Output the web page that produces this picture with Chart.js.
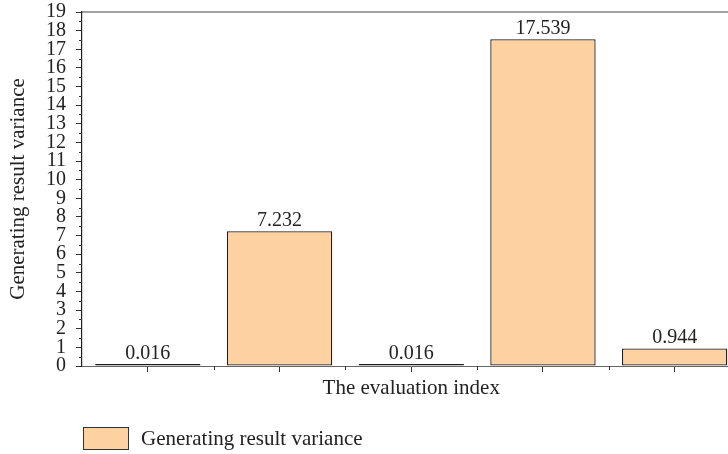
<!DOCTYPE html>
<html>
<head>
<meta charset="utf-8">
<script src="https://cdn.jsdelivr.net/npm/chart.js@4"></script>
<style>
  html, body { margin: 0; padding: 0; background: #fff; }
  #wrap { position: relative; width: 728px; height: 454px; overflow: hidden; }
  #c { position: absolute; left: 0; top: 0; }
  #legend { position: absolute; left: 83px; top: 426px; display: flex; align-items: center;
            font: 21px "Liberation Serif", serif; color: #222; }
  #legend .box { width: 44px; height: 21px; background: #FDD1A0; border: 1px solid #333; margin-right: 12px; }
</style>
</head>
<body>
<div id="wrap">
  <canvas id="c" width="742" height="454"></canvas>
  <div id="legend"><span class="box"></span><span>Generating result variance</span></div>
</div>
<script>
// Evaluation indexes (unlabelled on the axis) and their variances
const categories = ['1', '2', '3', '4', '5'];
const seriesName = 'Generating result variance';
const varianceValues = [0.016, 7.232, 0.016, 17.539, 0.944];
const yRange = { min: 0, max: 19, step: 1 };

const FONT = '"Liberation Serif", "Times New Roman", serif';
const INK = '#222';

// Half-step minor ticks on both axes, plus the frame line along the top
const frameAndMinorTicks = {
  id: 'frameAndMinorTicks',
  afterDraw(chart) {
    const { ctx, chartArea, scales } = chart;
    const x = scales.x, y = scales.y;
    ctx.save();
    ctx.strokeStyle = '#333';
    ctx.lineWidth = 1;
    for (let v = yRange.min + yRange.step / 2; v < yRange.max; v += yRange.step) {
      const py = Math.round(y.getPixelForValue(v)) + 0.5;
      ctx.beginPath();
      ctx.moveTo(chartArea.left - 3, py);
      ctx.lineTo(chartArea.left, py);
      ctx.stroke();
    }
    const n = categories.length;
    const half = (x.getPixelForTick(1) - x.getPixelForTick(0)) / 2;
    for (let i = 0; i < n; i++) {
      const px = Math.round(x.getPixelForTick(i) + half) + 0.5;
      ctx.beginPath();
      ctx.moveTo(px, chartArea.bottom);
      ctx.lineTo(px, chartArea.bottom + 4);
      ctx.stroke();
    }
    ctx.strokeStyle = '#444';
    ctx.lineWidth = 1.2;
    ctx.beginPath();
    ctx.moveTo(chartArea.left, chartArea.top);
    ctx.lineTo(chartArea.right + 2, chartArea.top);
    ctx.stroke();
    ctx.restore();
  }
};

// Value printed above each bar
const barValueLabels = {
  id: 'barValueLabels',
  afterDatasetsDraw(chart) {
    const { ctx } = chart;
    const meta = chart.getDatasetMeta(0);
    ctx.save();
    ctx.font = '20px ' + FONT;
    ctx.fillStyle = INK;
    ctx.textAlign = 'center';
    ctx.textBaseline = 'alphabetic';
    meta.data.forEach((bar, i) => {
      ctx.fillText(varianceValues[i].toFixed(3), bar.x, bar.y - 5);
    });
    ctx.restore();
  }
};

new Chart(document.getElementById('c'), {
  type: 'bar',
  data: {
    labels: categories,
    datasets: [{
      label: seriesName,
      data: varianceValues,
      backgroundColor: '#FDD1A0',
      borderColor: '#1e1e1e',
      borderWidth: 1.3,
      borderSkipped: false,
      minBarLength: 2,
      categoryPercentage: 0.8,
      barPercentage: 1.0
    }]
  },
  options: {
    responsive: false,
    animation: false,
    devicePixelRatio: 1,
    layout: { padding: { top: 12, right: 1.5, bottom: 53, left: 0 } },
    plugins: { legend: { display: false }, tooltip: { enabled: false } },
    scales: {
      x: {
        type: 'category',
        grid: { display: true, drawOnChartArea: false, offset: false, tickLength: 6, color: '#333', lineWidth: 1 },
        border: { display: true, color: '#666', width: 1 },
        ticks: { display: false },
        title: { display: true, text: 'The evaluation index', color: INK,
                 font: { family: FONT, size: 21 }, padding: { top: 0, bottom: 0 } },
        afterFit(scale) { scale.height = 35; scale.paddingLeft = 0; scale.paddingRight = 0; }
      },
      y: {
        min: yRange.min,
        max: yRange.max,
        grid: { display: true, drawOnChartArea: false, tickLength: 6, color: '#333', lineWidth: 1 },
        border: { display: true, color: '#222', width: 1.2 },
        ticks: { stepSize: yRange.step, autoSkip: false, padding: 10, color: INK,
                 font: { family: FONT, size: 20 } },
        title: { display: true, text: seriesName, color: INK,
                 font: { family: FONT, size: 21 }, padding: { top: 6, bottom: 0 } },
        afterFit(scale) { scale.width = 82; scale.paddingTop = 0; scale.paddingBottom = 0; }
      }
    }
  },
  plugins: [frameAndMinorTicks, barValueLabels]
});
</script>
</body>
</html>
